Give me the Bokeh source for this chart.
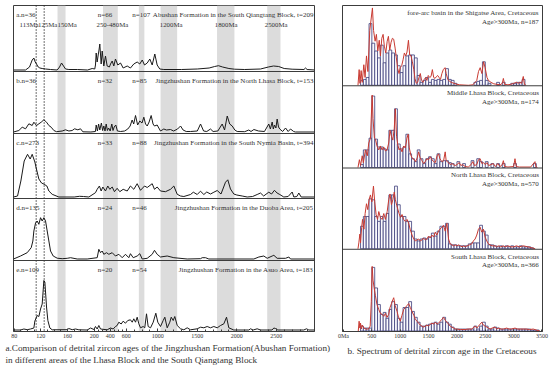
import numpy as np
from bokeh.plotting import figure
from bokeh.models import Range1d, BoxAnnotation, Span, Label, FixedTicker, Title
from bokeh.layouts import row
from bokeh.embed import file_html
from bokeh.resources import INLINE

# ---------------- data: left panel (age in Ma, relative probability) ----------------
A_AGE = [79, 97, 103, 107, 109.5, 111.5, 113.5, 116, 118.5, 122, 127, 134.5, 144.5, 148, 151, 154, 157, 162, 175, 190,
         197, 207, 216, 225, 237, 250, 260, 270, 287, 300, 320, 341, 362, 390, 404, 425, 445, 466, 495, 529, 562, 613,
         654, 696, 739, 772, 803, 832, 866, 899, 929, 962, 992, 1025, 1076, 1300, 1500, 1650, 1720, 1768, 1820, 1900,
         1971, 2100, 2300, 2400, 2465, 2530, 2600, 2700, 2850, 2870, 2890, 2985]
A_VAL = [0, 0, 3, 10, 12, 8, 6, 3, 2, 1.5, 1, 0.5, 0, 3, 7, 4, 1, 0.5, 0.5, 0,
         1.5, 1, 5, 17, 8, 15, 20, 26, 6, 19, 4, 14, 4, 3, 6, 9, 4, 11, 5, 7, 2, 4,
         2, 6, 8, 6, 10, 5, 7, 11, 5, 16, 5, 1, 0.5, 0.5, 1, 2, 3.5, 4.3, 3, 1.5,
         0.8, 0.5, 1, 3, 4, 3.5, 1.5, 0.8, 0.5, 2, 0.5, 0]

B_AGE = [79, 87, 92, 97, 102, 107, 109.5, 113.5, 117, 120.5, 124.5, 128.5, 132, 135.5, 139.5, 143.5, 152, 157, 162, 167,
         170.5, 175.5, 179.5, 183, 195, 215, 225, 240, 255, 270, 290, 305, 320, 335, 350, 365, 380, 400, 420, 435,
         450, 470, 490, 530, 580, 620, 650, 675, 695, 718, 745, 772, 800, 823, 845, 866, 890, 916, 940, 958,
         992, 1034, 1076, 1110, 1161, 1200, 1250, 1288, 1320, 1360, 1414, 1500, 1541, 1580, 1620, 1667, 1700, 1760,
         1815, 1845, 1879, 1910, 1942, 1975, 2005, 2100, 2152, 2180, 2216, 2275, 2350, 2405, 2425, 2448, 2462, 2477,
         2495, 2511, 2528, 2544, 2580, 2617, 2650, 2680, 2720, 2743, 2985]
B_VAL = [0, 1.5, 4.8, 3.2, 8.2, 6.5, 9.8, 6.5, 8.2, 9.8, 12.2, 9.8, 6.5, 4.8, 1.5, 0.3, 1, 2.2, 1, 1.5,
         3.2, 2.2, 3.2, 0.2, 0, 0.5, 7, 1, 8, 2, 9, 1.5, 6, 1, 8, 1.5, 4, 1, 8, 1.5,
         5, 7, 1, 0.5, 1, 3, 6, 12, 8, 16.5, 7, 11, 9, 14.8, 8, 6, 10, 16.5, 8, 6,
         7, 1, 3, 2, 2.5, 1, 3, 6, 2, 0.5, 0.5, 1, 8, 1, 0.5, 3, 0.5, 1,
         8, 2, 16, 8, 6, 2, 0.5, 0.3, 2, 0.5, 2.5, 1, 0.5, 8, 3, 10, 3, 7,
         4, 13, 5, 3, 0.5, 4, 0.5, 3, 0.5, 0, 0]

C_AGE = [79, 85, 90, 95, 100, 104, 107, 111, 113, 117, 121, 125, 129, 132, 137, 147, 170, 178, 184, 192,
         216, 237, 265, 287, 308, 341, 370, 395, 425, 453, 487, 520, 562, 613, 654, 696, 739, 781, 832, 866,
         929, 958, 992, 1034, 1097, 1161, 1203, 1246, 1288, 1330, 1414, 1450, 1499, 1540, 1583, 1620, 1667, 1710,
         1752, 1800, 1857, 1886, 1920, 1962, 2000, 2068, 2132, 2200, 2258, 2300, 2340, 2405, 2440, 2477, 2510,
         2544, 2595, 2650, 2701, 2722, 2760, 2785, 2815, 2985]
C_VAL = [0, 1, 16, 36, 42.7, 38, 42.7, 35, 29, 18, 14, 12.7, 11, 6, 2.7, 0, 0, 0.7, 0.5, 0,
         4.3, 7.7, 11, 6, 10, 6, 11, 7.7, 10, 5.3, 8.7, 5.3, 7.7, 6, 11, 7.7, 13.3, 6.7, 11, 9.5,
         13.3, 7.7, 10, 6, 5.3, 7.7, 11, 2.7, 1, 0.5, 2.5, 4.8, 2.5, 5.8, 2.5, 5, 3, 4.8,
         6.5, 3, 14.8, 17.2, 8, 3, 2, 1, 0, 0.5, 2.5, 4, 1, 4.8, 3, 6.7, 4,
         2.5, 0, 0.5, 5, 0, 0.5, 4, 0, 0]

D_AGE = [79, 89.5, 99.5, 105.5, 108, 109.5, 112, 114.5, 117, 119.5, 122, 124.5, 127, 129.5, 132, 134.5, 138.5, 144.5,
         152, 159.5, 164.5, 174.5, 189.5, 237.5, 258, 279, 300, 320, 354, 383, 425, 466, 508, 550, 591, 633, 654,
         689, 739, 772, 803, 866, 929, 958, 992, 1034, 1119, 1203, 1372, 1541, 1562, 1604, 1646, 2216, 2279, 2342,
         2385, 2448, 2469, 2511, 2617, 2659, 2680, 2985]
D_VAL = [0, 3, 6.3, 11.3, 18, 28, 36, 38, 34.7, 41.3, 38, 41.3, 38, 28, 18, 8, 3, 0.8,
         0.3, 0.7, 1.3, 0, 0, 1.3, 9.7, 6.3, 8, 4.7, 6.3, 4.7, 6.3, 3, 4.7, 1.3, 4.7, 1.3, 5.3,
         1.3, 3, 5.3, 0, 0.7, 4.7, 8.7, 4.7, 2, 3, 1.3, 0, 0.3, 1.3, 1.3, 0, 0, 2, 3,
         0.7, 3, 3.7, 0.7, 0.7, 2, 0, 0]

E_AGE = [79, 89.5, 94.5, 99.5, 104.5, 109.5, 111, 114.5, 117, 119.5, 122, 124.5, 126, 128.5, 130.5, 133.5, 137, 159.5,
         162, 167, 172, 177, 189.5, 194.5, 199.5, 216, 237, 258, 279, 362, 404, 437, 466, 487, 508, 537, 562, 591,
         620, 654, 676, 696, 718, 739, 760, 781, 815, 835, 857, 878, 908, 942, 975, 1000, 1034, 1068, 1089, 1119,
         1152, 1170, 1195, 1215, 1246, 1288, 1330, 1372, 1414, 1499, 1541, 1583, 1625, 1667, 1709, 1752, 1794,
         1836, 1870, 1899, 1962, 2152, 2174, 2207, 2258, 2300, 2445, 2469, 2490, 2519, 2848, 2882, 2912, 2985]
E_VAL = [0, 0, 1, 0.3, 1, 2, 9, 14.5, 13.5, 21, 26, 49.5, 48, 23, 9.5, 2, 0.2, 0.3,
         1.5, 0.3, 1, 0.2, 0, 2, 0.5, 3.5, 1, 4.5, 1, 0.2, 2, 1, 3.5, 4.5, 7.8, 6, 8.8, 6.8,
         9.5, 10.2, 7.8, 11.2, 7.8, 12.8, 6.2, 2.2, 3.5, 2.2, 16.2, 3.5, 2.2, 7.8, 16.8, 7.8, 3.5, 9.5, 12.8, 2.2,
         7.8, 12.8, 9.5, 13.5, 4.5, 1.2, 0.2, 2.2, 0.2, 1.2, 2.8, 2.2, 3.5, 2.2, 3.5, 2.2, 4.5,
         6.2, 12.8, 2.2, 0, 0, 1.2, 0, 1.2, 0, 0, 2, 1.5, 0, 0, 1.2, 0, 0]

LEFT_AGES = [A_AGE, B_AGE, C_AGE, D_AGE, E_AGE]
LEFT_VALS = [A_VAL, B_VAL, C_VAL, D_VAL, E_VAL]
PANEL_TAGS = ["a.n=36", "b.n=36", "c.n=273", "d.n=135", "e.n=109"]
N_YOUNG = ["n=66", "n=32", "n=33", "n=24", "n=20"]
N_OLD = ["n=107", "n=85", "n=88", "n=46", "n=54"]
LEFT_TITLES = ["Abushan Formation in the South Qiangtang Block, t=209",
               "Jingzhushan Formation in the North Lhasa Block, t=153",
               "Jingzhushan Formation in the South Nymia Basin, t=394",
               "Jingzhushan Formation in the Duoba Area, t=205",
               "Jingzhushan Formation in the Asuo Area, t=183"]
BANDS = [(145, 157), (310, 495), (760, 830), (1035, 1245), (1750, 1970), (2385, 2553)]
DOTTED_AGES = [113, 125]
BAND_LABELS = ["113Ma", "125Ma", "150Ma", "250-480Ma", "1200Ma", "1800Ma", "2500Ma"]
LEFT_TICKS = [80, 120, 160, 200, 400, 600, 1000, 1500, 2000, 2500]

# ---------------- data: right panel (50 Ma bins from 300 Ma; histogram counts + density curve) ----------------
BIN_LEFT = list(range(300, 3450, 50))
SHIG_BARS = [5, 6, 8, 63, 43, 35, 28, 41, 23, 33,
             36, 33, 31, 20, 13, 20, 30, 31, 31, 28,
             10, 3, 5, 8, 3, 6, 5, 6, 5, 6,
             17, 6, 5, 2, 0, 0, 0, 0, 0, 0,
             3, 4, 5, 24, 5, 2, 0, 0, 3, 0,
             3, 0, 0, 2, 2, 3, 3, 6, 0, 0,
             0, 0, 0]
MID_BARS = [3, 18, 18, 30, 73, 29, 21, 21, 19, 18,
            38, 38, 60, 24, 19, 21, 34, 14, 9, 6,
            18, 9, 4, 9, 11, 9, 4, 14, 6, 7,
            7, 5, 4, 0, 6, 0, 4, 0, 0, 7,
            0, 9, 6, 0, 6, 0, 4, 0, 4, 0,
            4, 0, 0, 0, 4, 0, 0, 0, 0, 0,
            0, 4, 0]
NORTH_BARS = [23, 33, 33, 51, 50, 33, 28, 33, 28, 36,
              55, 55, 64, 45, 33, 33, 28, 28, 18, 10,
              8, 10, 11, 10, 12, 16, 13, 18, 23, 23,
              26, 5, 4, 4, 3, 3, 3, 3, 5, 6,
              6, 6, 24, 18, 14, 4, 4, 3, 2, 3,
              2, 3, 2, 3, 2, 2, 3, 2, 2, 2,
              1, 0, 0]
SOUTH_BARS = [5, 3, 3, 3, 65, 44, 27, 17, 19, 13,
              22, 30, 27, 13, 9, 24, 24, 30, 20, 14,
              9, 5, 5, 6, 7, 8, 9, 7, 9, 14,
              9, 7, 4, 2, 2, 2, 2, 2, 2, 2,
              5, 2, 5, 9, 5, 2, 2, 4, 3, 2,
              2, 2, 2, 2, 2, 2, 2, 2, 2, 2,
              1, 1, 1]

SHIG_LINE_AGE = [255, 276, 290, 311, 330, 358, 380, 405, 430, 463, 510, 530, 557, 580, 604, 630, 651, 675, 698, 720,
                 745, 770, 792, 815, 839, 862, 885, 910, 932, 955, 979, 1000, 1026, 1050, 1073, 1097, 1120, 1145,
                 1167, 1190, 1214, 1240, 1260, 1283, 1307, 1330, 1354, 1377, 1400, 1424, 1448, 1470, 1495, 1520,
                 1543, 1567, 1590, 1614, 1640, 1660, 1685, 1710, 1735, 1760, 1790, 1810, 1840, 1870, 1900, 1950,
                 2000, 2050, 2200, 2280, 2320, 2350, 2380, 2410, 2440, 2470, 2497, 2530, 2555, 2600, 2650, 2700,
                 2760, 2800, 2819, 2840, 2900, 2950, 3000, 3050, 3080, 3110, 3140, 3170, 3190, 3220]
SHIG_LINE_VAL = [0, 16, 2, 15, 3, 21, 8, 30, 14, 56, 79, 56, 45, 52, 35, 46, 30, 48, 52, 40,
                 33, 45, 50, 36, 44, 48, 47, 38, 28, 17, 12, 18, 20, 26, 33, 30, 34, 46,
                 31, 30, 24, 16, 7, 2, 3, 8, 12, 5, 3, 6, 8, 5, 10, 8,
                 9, 16, 8, 7, 9, 10, 8, 6, 12, 16, 18, 12, 6, 4, 3, 2,
                 1, 0.5, 0, 0.5, 3, 5, 14, 18, 12, 24, 18, 8, 5, 3, 1.5, 1,
                 0.5, 2, 7, 1, 0.5, 1, 2, 3, 2, 3, 2, 9, 1, 0]
MID_LINE_AGE = [255, 280, 300, 330, 350, 387, 420, 445, 475, 505, 520, 545, 563, 590, 621, 650, 680, 709, 738, 768,
                797, 820, 844, 870, 895, 914, 935, 955, 980, 1002, 1032, 1061, 1090, 1119, 1140, 1160, 1190, 1220,
                1250, 1270, 1300, 1325, 1350, 1383, 1412, 1440, 1470, 1500, 1530, 1559, 1590, 1618, 1650, 1676,
                1700, 1735, 1765, 1793, 1810, 1852, 1880, 1911, 1940, 1969, 2000, 2040, 2070, 2100, 2145, 2200,
                2250, 2280, 2310, 2350, 2380, 2409, 2440, 2470, 2500, 2530, 2560, 2600, 2640, 2680, 2720, 2760,
                2800, 2819, 2840, 2900, 3000, 3024, 3045, 3100, 3300, 3376, 3395, 3420]
MID_LINE_VAL = [0, 8, 2, 12, 5, 18, 12, 25, 30, 74, 50, 30, 29, 22, 18, 22, 18, 21, 17, 18,
                25, 38, 32, 28, 40, 60, 32, 24, 18, 20, 16, 22, 20, 30, 34, 20, 12, 9,
                8, 6, 10, 16, 10, 7, 4, 6, 9, 8, 11, 8, 6, 5, 12, 14,
                9, 6, 7, 16, 7, 5, 3, 4, 3, 2, 3, 5, 2, 3, 1, 0.5,
                3, 6, 2, 3, 8, 9, 4, 5, 3, 5, 2, 3, 4, 1, 4, 1,
                3, 7, 1, 0.5, 1, 9, 1, 0.5, 0.5, 6, 0.5, 0]
NORTH_LINE_AGE = [255, 270, 288, 300, 320, 335, 360, 381, 405, 428, 450, 475, 500, 528, 550, 575, 600, 622, 650, 680,
                  710, 739, 770, 797, 820, 845, 870, 895, 915, 940, 960, 980, 1005, 1032, 1060, 1090, 1120, 1149,
                  1175, 1208, 1240, 1266, 1295, 1325, 1354, 1383, 1412, 1442, 1470, 1500, 1530, 1559, 1590, 1618,
                  1645, 1676, 1700, 1735, 1764, 1793, 1823, 1852, 1881, 1911, 1940, 1969, 2000, 2028, 2060, 2090,
                  2120, 2145, 2180, 2220, 2260, 2290, 2321, 2350, 2380, 2409, 2438, 2467, 2497, 2526, 2555, 2584,
                  2620, 2672, 2700, 2731, 2770, 2819, 2850, 2900, 2950, 3000, 3050, 3100, 3170, 3250, 3320, 3380]
NORTH_LINE_VAL = [0, 6, 15, 6, 22, 30, 20, 36, 46, 40, 50, 55, 48, 64, 48, 35, 30, 38, 32, 30,
                  36, 30, 38, 50, 56, 45, 50, 58, 50, 44, 40, 36, 32, 35, 30, 28, 30, 26,
                  20, 14, 10, 8, 9, 10, 8, 9, 11, 9, 10, 13, 11, 14, 12, 17,
                  14, 18, 20, 22, 24, 18, 26, 10, 5, 4, 3, 4, 3, 4, 3, 2,
                  3, 2, 3, 4, 5, 8, 10, 14, 20, 22, 17, 20, 12, 8, 5, 4,
                  3, 3, 2, 3, 2, 3, 2, 3, 2, 2, 3, 2, 3, 2, 1, 0]
SOUTH_LINE_AGE = [260, 275, 288, 300, 315, 330, 358, 400, 440, 470, 490, 505, 520, 540, 563, 590, 621, 650, 680, 710,
                  738, 768, 797, 820, 845, 870, 885, 910, 944, 970, 1002, 1030, 1061, 1090, 1119, 1149, 1178, 1207,
                  1240, 1266, 1296, 1325, 1354, 1383, 1412, 1442, 1470, 1500, 1530, 1559, 1590, 1618, 1650, 1676,
                  1705, 1735, 1764, 1793, 1823, 1852, 1881, 1911, 1940, 1969, 2000, 2060, 2145, 2200, 2260, 2300,
                  2321, 2350, 2380, 2409, 2438, 2467, 2497, 2526, 2555, 2584, 2620, 2672, 2700, 2731, 2780, 2820,
                  2877, 2920, 2960, 3024, 3070, 3120, 3170, 3220, 3280, 3346, 3400, 3460]
SOUTH_LINE_VAL = [0, 10, 3, 8, 2, 6, 3, 2, 2, 5, 30, 66, 52, 44, 36, 27, 22, 18, 17, 15,
                  18, 14, 17, 24, 28, 32, 34, 26, 20, 14, 10, 16, 22, 24, 26, 28, 24, 20,
                  16, 12, 10, 8, 6, 5, 4, 5, 6, 5, 7, 8, 7, 9, 7, 8,
                  10, 12, 14, 11, 9, 7, 5, 4, 3, 2, 2, 1.5, 1.5, 2, 2, 4,
                  5, 3, 5, 7, 9, 6, 5, 4, 3, 2, 3, 4, 2, 3, 2, 2,
                  3, 2, 2, 3, 2, 2, 2, 2, 1.5, 2, 1, 0]

RIGHT_BARS = [SHIG_BARS, MID_BARS, NORTH_BARS, SOUTH_BARS]
RIGHT_LINE_AGES = [SHIG_LINE_AGE, MID_LINE_AGE, NORTH_LINE_AGE, SOUTH_LINE_AGE]
RIGHT_LINE_VALS = [SHIG_LINE_VAL, MID_LINE_VAL, NORTH_LINE_VAL, SOUTH_LINE_VAL]
RIGHT_NAMES = ["fore-arc basin in the Shigatse Area, Cretaceous", "Middle Lhasa Block, Cretaceous",
               "North Lhasa Block, Cretaceous", "South Lhasa Block, Cretaceous"]
RIGHT_NS = ["Age>300Ma, n=187", "Age>300Ma, n=174", "Age>300Ma, n=570", "Age>300Ma, n=366"]
RIGHT_TICKS = [0, 500, 1000, 1500, 2000, 2500, 3000, 3500]
CAPTION_A = ["a.Comparison of detrital zircon ages of the Jingzhushan Formation(Abushan Formation)",
             "in different areas of the Lhasa Block and the South Qiangtang Block"]
CAPTION_B = "b. Spectrum of detrital zircon age in the Cretaceous"

# ---------------- layout constants ----------------
FONT = "Liberation Serif"
INK = "#333333"
FRAME = "#3c3c3c"
# piecewise (broken) age axis of the left chart
AGE_KNOTS = [78, 200, 600, 3000]
POS_KNOTS = [12.37, 93.7, 125.7, 315.3]
LEFT_EDGES = [5, 71, 133, 198, 260, 331]
RIGHT_EDGES = [5, 87, 171, 254, 338]


def u(age):
    return np.interp(np.asarray(age, dtype=float), AGE_KNOTS, POS_KNOTS)


def lab(p, x, y, text, align="left", size="7px"):
    p.add_layout(Label(x=x, y=y, text=text, text_align=align, text_baseline="middle",
                       text_font=FONT, text_font_size=size, text_color=INK))


def caption(p, text, offset, standoff=0):
    p.add_layout(Title(text=text, align="left", offset=offset, standoff=standoff, text_font=FONT,
                       text_font_size="9.2px", text_font_style="normal", text_color=INK), "below")


# ================= left chart =================
left = figure(width=334, height=368, x_range=Range1d(13, 314), y_range=Range1d(331, 5),
              output_backend="svg", toolbar_location=None, y_axis_location=None,
              min_border_left=13, min_border_right=20, min_border_top=5, min_border_bottom=37)
left.xgrid.visible = False
left.ygrid.visible = False
left.outline_line_color = FRAME
left.outline_line_width = 1

for a0, a1 in BANDS:
    left.add_layout(BoxAnnotation(left=float(u(a0)), right=float(u(a1)), fill_color="#dcdcdc",
                                  fill_alpha=1, line_color=None, level="underlay"))
for ag in DOTTED_AGES:
    left.add_layout(Span(location=float(u(ag)), dimension="height", line_color="#111111",
                         line_width=1.2, line_dash="1 2"))
for yb in LEFT_EDGES[1:-1]:
    left.add_layout(Span(location=yb, dimension="width", line_color=FRAME, line_width=1))

left.extra_y_ranges = {}
for i in range(5):
    base = LEFT_EDGES[i + 1] - 1.5
    left.extra_y_ranges[f"L{i}"] = Range1d(base - 331, base - 5)
for i in range(5):
    left.line(x=u(LEFT_AGES[i]), y=LEFT_VALS[i], y_range_name=f"L{i}", line_color="#1a1a1a", line_width=1)

for i in range(5):
    ty = LEFT_EDGES[i] + 9
    lab(left, 15.7, ty, PANEL_TAGS[i])
    lab(left, 97.3, ty, N_YOUNG[i])
    lab(left, 131.7, ty, N_OLD[i])
    lab(left, 313, ty, LEFT_TITLES[i], align="right")
for txt, xx in zip(BAND_LABELS, [19, 37.5, 57, 96, 159.3, 214.3, 264.3]):
    lab(left, xx, 24, txt, size="6.8px")

ticks_u = [round(float(u(t)), 3) for t in LEFT_TICKS]
minor_ages = list(range(90, 200, 10)) + list(range(250, 600, 50)) + list(range(700, 3000, 100))
ax = left.xaxis[0]
ax.ticker = FixedTicker(ticks=ticks_u, minor_ticks=[round(float(u(m)), 3) for m in minor_ages])
ax.major_label_overrides = {t: str(a) for t, a in zip(ticks_u, LEFT_TICKS)}
ax.major_tick_in = 3
ax.major_tick_out = 0
ax.minor_tick_in = 2
ax.minor_tick_out = 0
ax.axis_line_color = FRAME
ax.major_tick_line_color = FRAME
ax.minor_tick_line_color = FRAME
ax.major_label_standoff = 2
ax.major_label_text_font = FONT
ax.major_label_text_font_size = "6px"
ax.major_label_text_color = INK

caption(left, CAPTION_A[0], offset=-8)
caption(left, CAPTION_A[1], offset=-8)

# ================= right chart =================
right = figure(width=216, height=368, x_range=Range1d(-18, 3509), y_range=Range1d(338, 5),
               output_backend="svg", toolbar_location=None, y_axis_location=None,
               min_border_left=8, min_border_right=8, min_border_top=5, min_border_bottom=30)
right.xgrid.visible = False
right.ygrid.visible = False
right.outline_line_color = FRAME
right.outline_line_width = 1
for yb in RIGHT_EDGES[1:-1]:
    right.add_layout(Span(location=yb, dimension="width", line_color=FRAME, line_width=1))

right.extra_y_ranges = {}
for i in range(4):
    base = RIGHT_EDGES[i + 1] - 0.5
    right.extra_y_ranges[f"R{i}"] = Range1d(base - 338, base - 5)
centers = [b + 25 for b in BIN_LEFT]
for i in range(4):
    xs = [c for c, h in zip(centers, RIGHT_BARS[i]) if h > 0]
    hs = [h for h in RIGHT_BARS[i] if h > 0]
    right.vbar(x=xs, width=50, top=hs, bottom=0, y_range_name=f"R{i}",
               fill_color="#fbfbfe", line_color="#3b3b78", line_width=0.8)
    right.line(x=RIGHT_LINE_AGES[i], y=RIGHT_LINE_VALS[i], y_range_name=f"R{i}",
               line_color="#c83a32", line_width=1)
    lab(right, 3445, RIGHT_EDGES[i] + 7.5, RIGHT_NAMES[i], align="right")
    lab(right, 3445, RIGHT_EDGES[i] + 16.5, RIGHT_NS[i], align="right")

rx = right.xaxis[0]
rx.ticker = FixedTicker(ticks=RIGHT_TICKS)
rx.major_label_overrides = {0: "0Ma"}
rx.major_tick_in = 2
rx.major_tick_out = 0
rx.minor_tick_line_color = None
rx.axis_line_color = FRAME
rx.major_tick_line_color = FRAME
rx.major_label_standoff = 1
rx.major_label_text_font = FONT
rx.major_label_text_font_size = "6px"
rx.major_label_text_color = INK

caption(right, CAPTION_B, offset=5, standoff=4)

layout = row(left, right)
open("out.html", "w").write(file_html(layout, INLINE))
